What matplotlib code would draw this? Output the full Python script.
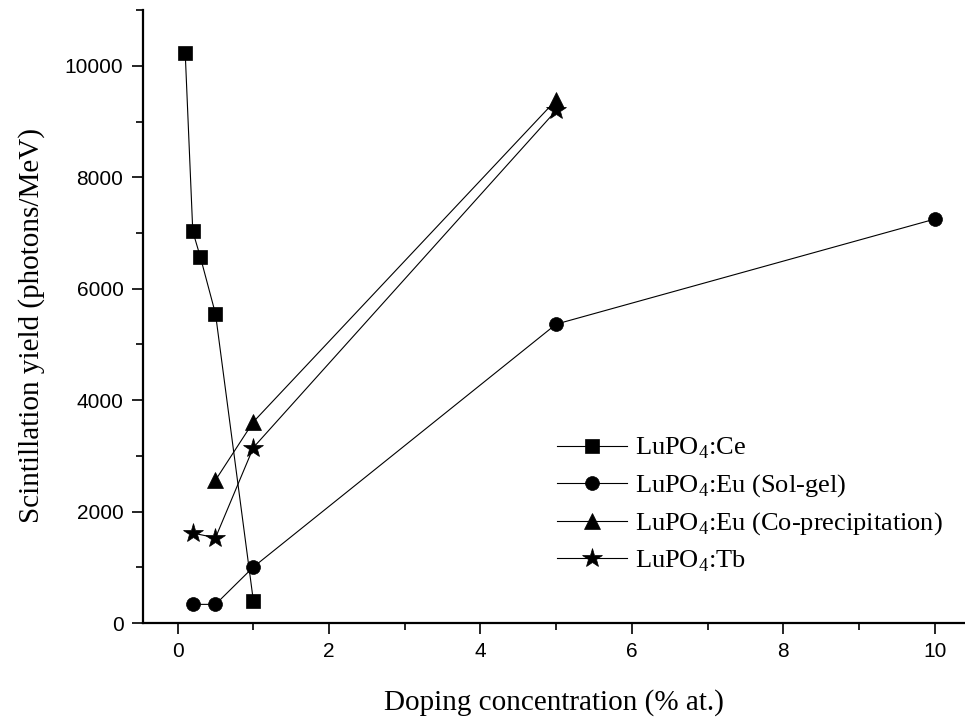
import matplotlib
matplotlib.use("Agg")
import matplotlib.pyplot as plt
from matplotlib.ticker import MultipleLocator

plt.rcParams['mathtext.fontset'] = 'custom'
plt.rcParams['mathtext.rm'] = 'Liberation Serif'

# Data
ce_x = [0.1, 0.2, 0.3, 0.5, 1.0]
ce_y = [10230, 7030, 6570, 5550, 400]

eu_sg_x = [0.2, 0.5, 1.0, 5.0, 10.0]
eu_sg_y = [335, 335, 1005, 5365, 7250]

eu_cp_x = [0.5, 1.0, 5.0]
eu_cp_y = [2565, 3610, 9390]

tb_x = [0.2, 0.5, 1.0, 5.0]
tb_y = [1615, 1530, 3150, 9200]

labels = ['LuPO$_\\mathregular{4}$:Ce',
          'LuPO$_\\mathregular{4}$:Eu (Sol-gel)',
          'LuPO$_\\mathregular{4}$:Eu (Co-precipitation)',
          'LuPO$_\\mathregular{4}$:Tb']

fig = plt.figure(figsize=(9.65, 7.27), dpi=100)
ax = fig.add_axes([0.148, 0.143, 0.852, 0.843])

common = dict(color='black', lw=0.8, mfc='black', mec='black', mew=0.5)
ax.plot(ce_x, ce_y, marker='s', ms=9.5, label=labels[0], **common)
ax.plot(eu_sg_x, eu_sg_y, marker='o', ms=10, label=labels[1], **common)
ax.plot(eu_cp_x, eu_cp_y, marker='^', ms=11, label=labels[2], **common)
ax.plot(tb_x, tb_y, marker='*', ms=15, label=labels[3], **common)

ax.set_xlim(-0.46, 10.4)
ax.set_ylim(0, 11000)
ax.xaxis.set_major_locator(MultipleLocator(2))
ax.xaxis.set_minor_locator(MultipleLocator(1))
ax.yaxis.set_major_locator(MultipleLocator(2000))
ax.yaxis.set_minor_locator(MultipleLocator(1000))

for s in ['top', 'right']:
    ax.spines[s].set_visible(False)
for s in ['left', 'bottom']:
    ax.spines[s].set_linewidth(1.6)

ax.tick_params(which='major', direction='out', length=8, width=1.2,
               labelsize=15, pad=6)
ax.tick_params(which='minor', direction='out', length=5, width=1.2)
for t in ax.get_xticklabels() + ax.get_yticklabels():
    t.set_fontfamily('Liberation Sans')

ax.set_xlabel('Doping concentration (% at.)', fontfamily='Liberation Serif',
              fontsize=21, labelpad=20)
ax.set_ylabel('Scintillation yield (photons/MeV)', fontfamily='Liberation Serif',
              fontsize=21, labelpad=14)
ax.yaxis.label.set_y(0.486)

leg = ax.legend(loc='upper left', bbox_to_anchor=(0.475, 0.344), frameon=False,
                prop={'family': 'Liberation Serif', 'size': 19},
                handlelength=2.65, handletextpad=0.3, labelspacing=0.42)

fig.savefig('out.png', dpi=100)
